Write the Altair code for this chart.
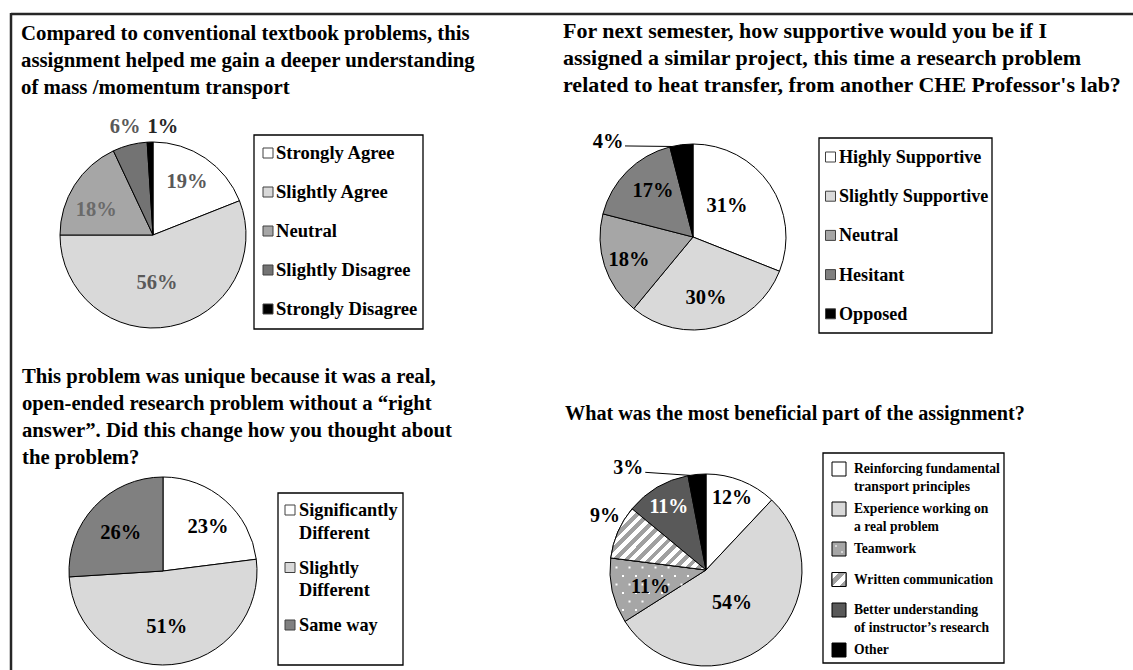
import math
import altair as alt
import pandas as pd

FONT = "Liberation Serif"

# ---------------- data ----------------
q1_title = ["Compared to conventional textbook problems, this",
            "assignment helped me gain a deeper understanding",
            "of mass /momentum transport"]
q1_cats = ["Strongly Agree", "Slightly Agree", "Neutral", "Slightly Disagree", "Strongly Disagree"]
q1_vals = [19, 56, 18, 6, 1]

q2_title = ["For next semester, how supportive would you be if I",
            "assigned a similar project, this time a research problem",
            "related to heat transfer, from another CHE Professor's lab?"]
q2_cats = ["Highly Supportive", "Slightly Supportive", "Neutral", "Hesitant", "Opposed"]
q2_vals = [31, 30, 18, 17, 4]

q3_title = ["This problem was unique because it was a real,",
            "open-ended research problem without a \u201cright",
            "answer\u201d. Did this change how you thought about",
            "the problem?"]
q3_cats = ["Significantly\nDifferent", "Slightly\nDifferent", "Same way"]
q3_vals = [23, 51, 26]

q4_title = ["What was the most beneficial part of the assignment?"]
q4_cats = ["Reinforcing fundamental\ntransport principles",
           "Experience working on\na real problem",
           "Teamwork",
           "Written communication",
           "Better understanding\nof instructor\u2019s research",
           "Other"]
q4_vals = [12, 54, 11, 9, 11, 3]

# ---------------- styles / layout ----------------
q1_fill = ["#ffffff", "#d9d9d9", "#a6a6a6", "#737373", "#000000"]
q2_fill = ["#ffffff", "#d9d9d9", "#a6a6a6", "#808080", "#000000"]
q3_fill = ["#ffffff", "#d9d9d9", "#808080"]
q4_fill = ["#ffffff", "#d9d9d9", "#a6a6a6", "#ffffff", "#595959", "#000000"]

panels = [
    dict(title=q1_title, cats=q1_cats, vals=q1_vals, fills=q1_fill,
         tx=21, ty=40, tfs=20.8,
         cx=153, cy=235, R=93,
         lr=[63, 48, 62, 112, 108], da=[-1.5, 6, -8.7, 0, 7.1],
         lc=["#595959", "#595959", "#6a6a6a", "#595959", "#262626"], lfs=20.5,
         box=(254, 135, 423, 329), sx=268, ss=10, sstroke="#404040",
         txt_x=276, lfs_leg=18.6, ly0=153, la=39, lb=0, llh=22, leader=None),
    dict(title=q2_title, cats=q2_cats, vals=q2_vals, fills=q2_fill,
         tx=563, ty=38, tfs=22,
         cx=693, cy=237, R=93,
         lr=[46, 62, 68, 61, 127.5], da=[-8.2, 2.4, -1.8, 4, -34.6],
         lc=["black"] * 5, lfs=20.5,
         box=(819, 138, 992, 333), sx=830.5, ss=10, sstroke="#404040",
         txt_x=839, lfs_leg=18.1, ly0=157, la=39.2, lb=0, llh=22, leader=4),
    dict(title=q3_title, cats=q3_cats, vals=q3_vals, fills=q3_fill,
         tx=22, ty=383, tfs=20.7,
         cx=163, cy=571, R=94,
         lr=[63, 56, 57], da=[4.2, 1.5, -1],
         lc=["black"] * 3, lfs=20.5,
         box=(278, 493, 403, 665), sx=290, ss=10, sstroke="#404040",
         txt_x=299, lfs_leg=18.3, ly0=510, la=35, lb=22.5, llh=22.5, leader=None),
    dict(title=q4_title, cats=q4_cats, vals=q4_vals, fills=q4_fill,
         tx=565, ty=420, tfs=20.2,
         cx=706, cy=570, R=96,
         lr=[76.6, 42, 58, 114.5, 73, 128], da=[-1.7, 1.4, -4.4, 4.7, 0, -32],
         lc=["black", "black", "black", "black", "white", "black"], lfs=20,
         box=(823, 453, 1004, 663), sx=839, ss=14, sstroke="black",
         txt_x=854, lfs_leg=13.6, ly0=469, la=30.5, lb=9.5, llh=18, leader=5,
         stripes=3, dots=2),
]

one = pd.DataFrame({"a": [0]})


def stripe_gradient(n, x2, y2, gray="#a0a0a0"):
    stops = []
    for k in range(n):
        stops += [
            {"offset": k / n, "color": "#ffffff"},
            {"offset": (k + 0.5) / n, "color": "#ffffff"},
            {"offset": (k + 0.5) / n, "color": gray},
            {"offset": (k + 1) / n, "color": gray},
        ]
    return {"gradient": "linear", "x1": 0, "y1": 0, "x2": x2, "y2": y2, "stops": stops}


def panel_layers(P):
    n = len(P["cats"])
    cx, cy, R = P["cx"], P["cy"], P["R"]
    df = pd.DataFrame({
        "idx": list(range(n)),
        "cat": P["cats"],
        "value": P["vals"],
        "lab": [f"{v}%" for v in P["vals"]],
        "fill": P["fills"],
        "lr": P["lr"],
        "da": P["da"],
        "lc": P["lc"],
    })
    base = (alt.Chart(df)
            .transform_joinaggregate(total="sum(value)")
            .transform_window(cum="sum(value)", sort=[alt.SortField("idx")], frame=[None, 0])
            .transform_calculate(t0="2*PI*(datum.cum - datum.value)/datum.total")
            .transform_calculate(t1="2*PI*datum.cum/datum.total"))
    layers = []
    # title
    layers.append(
        alt.Chart(pd.DataFrame({"t": ["\n".join(P["title"])]})).mark_text(
            font=FONT, fontWeight="bold", fontSize=P["tfs"], align="left",
            baseline="alphabetic", lineBreak="\n", lineHeight=27, color="black"
        ).encode(x=alt.value(P["tx"]), y=alt.value(P["ty"]), text="t:N")
    )
    # slices
    layers.append(
        base.mark_arc(outerRadius=R, stroke="black", strokeWidth=1).encode(
            x=alt.value(cx), y=alt.value(cy),
            theta=alt.Theta("t0:Q", scale=None), theta2="t1:Q",
            fill=alt.Fill("fill:N", scale=None),
        )
    )
    if P.get("stripes") is not None:
        k = P["stripes"]
        layers.append(
            base.transform_filter(f"datum.idx == {k}").mark_arc(
                outerRadius=R, stroke="black", strokeWidth=1,
                fill=stripe_gradient(14, 1.2, 0.77),
            ).encode(
                x=alt.value(cx), y=alt.value(cy),
                theta=alt.Theta("t0:Q", scale=None), theta2="t1:Q",
            )
        )
    if P.get("dots") is not None:
        k = P["dots"]
        tot = sum(P["vals"])
        a0 = 2 * math.pi * sum(P["vals"][:k]) / tot
        a1 = 2 * math.pi * sum(P["vals"][:k + 1]) / tot
        cols = 17
        layers.append(
            alt.Chart(alt.sequence(0, cols * 26, as_="i"))
            .transform_calculate(row=f"floor(datum.i/{cols})")
            .transform_calculate(col=f"datum.i % {cols}")
            .transform_calculate(px=f"{cx - R} + datum.col*13 + (datum.row % 2)*6.5")
            .transform_calculate(py=f"{cy - R} + datum.row*8.5")
            .transform_calculate(ddx=f"datum.px - {cx}", ddy=f"datum.py - {cy}")
            .transform_calculate(ang="(atan2(datum.ddx, -datum.ddy) + 2*PI) % (2*PI)")
            .transform_calculate(rr="sqrt(datum.ddx*datum.ddx + datum.ddy*datum.ddy)")
            .transform_filter(f"datum.rr < {R - 3} && datum.rr > 10 && datum.ang > {a0 + 0.03} && datum.ang < {a1 - 0.03}")
            .mark_square(size=4, color="white", opacity=1, filled=True)
            .encode(x=alt.X("px:Q", scale=None, axis=None), y=alt.Y("py:Q", scale=None, axis=None))
        )
    # leader line
    if P.get("leader") is not None:
        k = P["leader"]
        layers.append(
            base.transform_filter(f"datum.idx == {k}")
            .transform_calculate(m="(datum.t0+datum.t1)/2 + datum.da*PI/180")
            .transform_calculate(sx=f"{cx} + datum.lr*sin(datum.m) + 17",
                                 sy=f"{cy} - datum.lr*cos(datum.m) + 4",
                                 ex=f"{cx} + {R}*sin(datum.t0 + 0.02)",
                                 ey=f"{cy} - {R}*cos(datum.t0 + 0.02)")
            .mark_rule(color="black", strokeWidth=1)
            .encode(x=alt.X("sx:Q", scale=None, axis=None), y=alt.Y("sy:Q", scale=None, axis=None),
                    x2="ex:Q", y2="ey:Q")
        )
    # slice labels
    layers.append(
        base.transform_calculate(m="(datum.t0+datum.t1)/2 + datum.da*PI/180")
        .transform_calculate(lx=f"{cx} + datum.lr*sin(datum.m)", ly=f"{cy} - datum.lr*cos(datum.m)")
        .mark_text(font=FONT, fontWeight="bold", fontSize=P["lfs"], align="center", baseline="middle")
        .encode(x=alt.X("lx:Q", scale=None, axis=None), y=alt.Y("ly:Q", scale=None, axis=None),
                text="lab:N", color=alt.Color("lc:N", scale=None))
    )
    # legend box
    bx0, by0, bx1, by1 = P["box"]
    layers.append(
        alt.Chart(one).mark_rect(fill="white", stroke="black", strokeWidth=1.3).encode(
            x=alt.value(bx0), x2=alt.value(bx1), y=alt.value(by0), y2=alt.value(by1))
    )
    # legend entries
    nlines = [c.count("\n") + 1 for c in P["cats"]]
    ys, y = [], P["ly0"]
    for k in range(n):
        ys.append(y)
        y += P["la"] + P["lb"] * (nlines[k] - 1)
    ldf = pd.DataFrame({"idx": list(range(n)), "cat": P["cats"], "fill": P["fills"], "ly": ys})
    layers.append(
        alt.Chart(ldf).mark_square(size=P["ss"] ** 2, stroke=P["sstroke"], strokeWidth=1, opacity=1, filled=True)
        .encode(x=alt.value(P["sx"]), y=alt.Y("ly:Q", scale=None, axis=None), fill=alt.Fill("fill:N", scale=None))
    )
    if P.get("stripes") is not None:
        k = P["stripes"]
        layers.append(
            alt.Chart(ldf).transform_filter(f"datum.idx == {k}")
            .mark_square(size=P["ss"] ** 2, stroke=P["sstroke"], strokeWidth=1, opacity=1, filled=True,
                         fill=stripe_gradient(2, 1, 1))
            .encode(x=alt.value(P["sx"]), y=alt.Y("ly:Q", scale=None, axis=None))
        )
    if P.get("dots") is not None:
        k = P["dots"]
        layers.append(
            alt.Chart(ldf).transform_filter(f"datum.idx == {k}")
            .transform_calculate(dy1="datum.ly - 3")
            .mark_square(size=2, color="white", opacity=1, filled=True)
            .encode(x=alt.value(P["sx"] - 3), y=alt.Y("dy1:Q", scale=None, axis=None))
        )
        layers.append(
            alt.Chart(ldf).transform_filter(f"datum.idx == {k}")
            .transform_calculate(dy2="datum.ly + 3")
            .mark_square(size=2, color="white", opacity=1, filled=True)
            .encode(x=alt.value(P["sx"] + 3), y=alt.Y("dy2:Q", scale=None, axis=None))
        )
    layers.append(
        alt.Chart(ldf).mark_text(font=FONT, fontWeight="bold", fontSize=P["lfs_leg"], align="left",
                                 baseline="alphabetic", lineBreak="\n", lineHeight=P["llh"],
                                 dy=round(P["lfs_leg"] * 0.32), color="black")
        .encode(x=alt.value(P["txt_x"]), y=alt.Y("ly:Q", scale=None, axis=None), text="cat:N")
    )
    return layers


all_layers = []
# outer frame lines (top and left)
all_layers.append(
    alt.Chart(one).mark_rule(color="#262626", strokeWidth=2.5).encode(
        x=alt.value(11), x2=alt.value(1133), y=alt.value(14), y2=alt.value(14))
)
all_layers.append(
    alt.Chart(one).mark_rule(color="#262626", strokeWidth=2.5).encode(
        x=alt.value(11), x2=alt.value(11), y=alt.value(13), y2=alt.value(670))
)
for P in panels:
    all_layers += panel_layers(P)

chart = alt.layer(*all_layers).properties(
    width=1133, height=670, padding=0,
    autosize=alt.AutoSizeParams(type="none"), background="white",
).configure_view(stroke=None)

chart.save("out.html", embed_options={"renderer": "svg", "actions": False})
